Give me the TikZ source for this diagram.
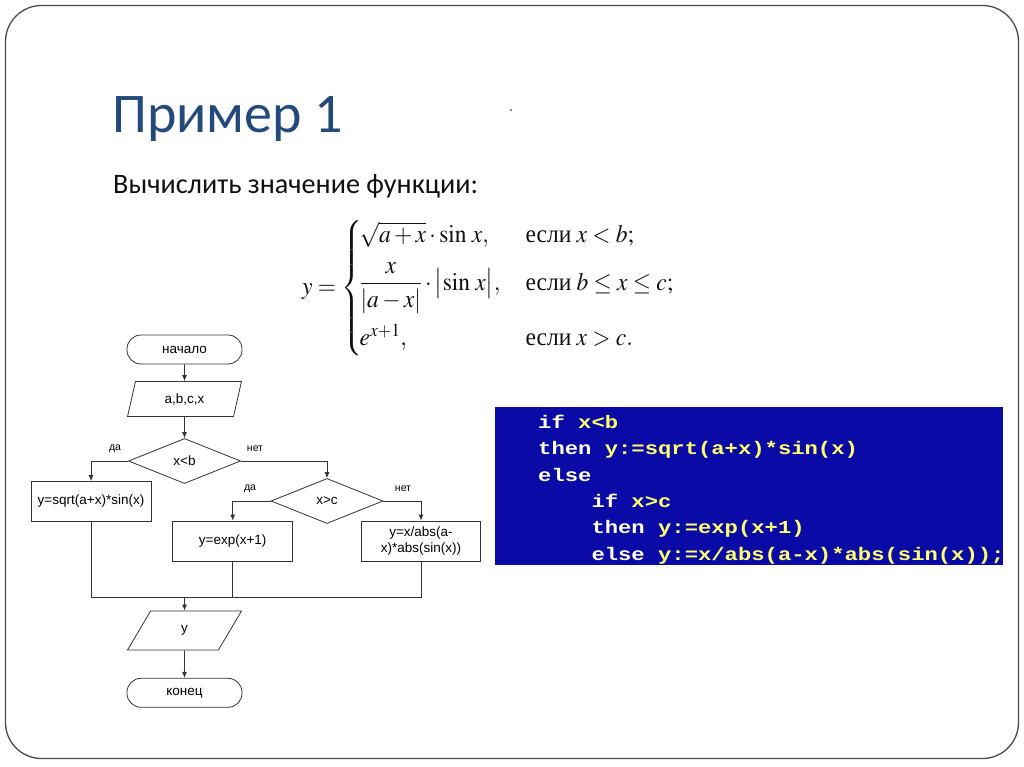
\documentclass[tikz,border=0pt]{standalone}
\usepackage{amsmath}
\usepackage{mathptmx}
\usepackage{graphicx}
\usepackage[no-math]{fontspec}
\setmainfont{Carlito}
\newfontfamily\chartfont{Liberation Sans}
\newfontfamily\formfont{Liberation Serif}
\newfontfamily\codefont[FakeStretch=1.22]{Liberation Mono}
\usepackage{xcolor}
\usetikzlibrary{arrows.meta,positioning,shapes.geometric}
\definecolor{Frame}{HTML}{4A4A4A}
\definecolor{Title}{HTML}{244A7C}
\definecolor{Ink}{HTML}{111111}
\definecolor{Line}{HTML}{333333}
\definecolor{CodeBlue}{HTML}{0A0AA6}
\definecolor{CodeKey}{HTML}{FFFFE6}
\definecolor{CodeText}{HTML}{FFFF6E}
\newcommand{\pkw}[1]{\textcolor{CodeKey}{#1}}
\newcommand{\ptx}[1]{\textcolor{CodeText}{#1}}

\begin{document}
\begin{tikzpicture}[x=1pt,y=-1pt,
  term/.style={draw=Line,line width=0.8pt,rounded corners=14pt,minimum width=115pt,minimum height=29pt,inner sep=1pt,font=\chartfont\fontsize{13.5}{15}\selectfont},
  io/.style={draw=Line,line width=0.8pt,trapezium,trapezium left angle=76,trapezium right angle=104,trapezium stretches=true,minimum width=114pt,minimum height=35pt,inner sep=1pt,font=\chartfont\fontsize{13.5}{15}\selectfont},
  proc/.style={draw=Line,line width=0.8pt,minimum width=120pt,minimum height=40pt,align=center,inner sep=1pt,font=\chartfont\fontsize{13.5}{16}\selectfont},
  cond/.style={draw=Line,line width=0.8pt,diamond,minimum width=112pt,minimum height=45pt,inner sep=0pt,font=\chartfont\fontsize{13.5}{15}\selectfont},
  lab/.style={font=\chartfont\fontsize{10.5}{12}\selectfont},
  edge/.style={-{Latex[length=6pt,width=5pt]},draw=Line,line width=0.8pt},
  wire/.style={draw=Line,line width=0.8pt}
]
  \useasboundingbox (0,0) rectangle (1024,767);
  \draw[Frame,line width=1.3pt,rounded corners=36pt] (5.5,5.5) rectangle (1018.5,758.5);

  % heading
  \node[anchor=base west,inner sep=0pt,text=Title,font=\fontsize{56}{60}\selectfont] (title) at (112,133) {Пример 1};
  \fill[Ink] (511,110) circle (0.8pt);
  \node[anchor=base west,inner sep=0pt,text=Ink,font=\fontsize{28.2}{30}\selectfont] (task) at (113,194) {Вычислить значение функции:};

  % function
  \node[anchor=west,inner sep=0pt,text=Ink,font=\fontsize{25}{30}\selectfont] (func) at (302,288) {\scalebox{0.94}[1]{$\displaystyle y=\left\{\!\begin{array}{@{}l@{\hspace{27pt}}l@{}}
    \sqrt{a+x}\cdot\sin\,x, & \mbox{\formfont если}\ x<b;\\[11pt]
    \dfrac{x}{\left|a-x\right|}\cdot\bigl|\sin\,x\bigr|, & \mbox{\formfont если}\ b\le x\le c;\\[25pt]
    e^{x+1}, & \mbox{\formfont если}\ x>c.
  \end{array}\right.$}};

  % flowchart
  \node[term] (start) at (184.5,349.5) {начало};
  \node[io] (input) at (184.5,399) {a,b,c,x};
  \node[cond] (c1) at (184.5,461) {x<b};
  \node[proc] (p1) at (91,501.5) {y=sqrt(a+x)*sin(x)};
  \node[cond] (c2) at (327,501) {x>c};
  \node[proc] (p2) at (232.7,541) {y=exp(x+1)};
  \node[proc,minimum width=119pt] (p3) at (421,541) {y=x/abs(a-\\x)*abs(sin(x))};
  \coordinate (join) at (184.5,597.5);
  \node[io,minimum height=39pt] (output) at (184.5,630.5) {y};
  \node[term] (stop) at (184.5,692.8) {конец};

  \node[lab] (yes1) at (115,449) {да};
  \node[lab] (no1) at (255,449) {нет};
  \node[lab] (yes2) at (250,489) {да};
  \node[lab] (no2) at (403,489) {нет};

  \draw[edge] (start) -- (input);
  \draw[edge] (input) -- (c1);
  \draw[edge] (c1.west) -| (p1.north);
  \draw[edge] (c1.east) -| (c2.north);
  \draw[edge] (c2.west) -| (p2.north);
  \draw[edge] (c2.east) -| (p3.north);
  \draw[wire] (p1.south) |- (join) -| (p3.south);
  \draw[wire] (p2.south) -- (p2.south |- join);
  \draw[edge] (join) -- (output);
  \draw[edge] (output) -- (stop);

  % program text
  \fill[CodeBlue] (495,407) rectangle (1003,565);
  \node[anchor=north west,inner sep=0pt,align=left,font=\codefont\bfseries\fontsize{18.2}{26.3}\selectfont] (code) at (538,415) {%
    \pkw{if} \ptx{x<b}\\
    \pkw{then} \ptx{y:=sqrt(a+x)*sin(x)}\\
    \pkw{else}\\
    \phantom{0000}\pkw{if} \ptx{x>c}\\
    \phantom{0000}\pkw{then} \ptx{y:=exp(x+1)}\\
    \phantom{0000}\pkw{else} \ptx{y:=x/abs(a-x)*abs(sin(x));}};
\end{tikzpicture}
\end{document}
